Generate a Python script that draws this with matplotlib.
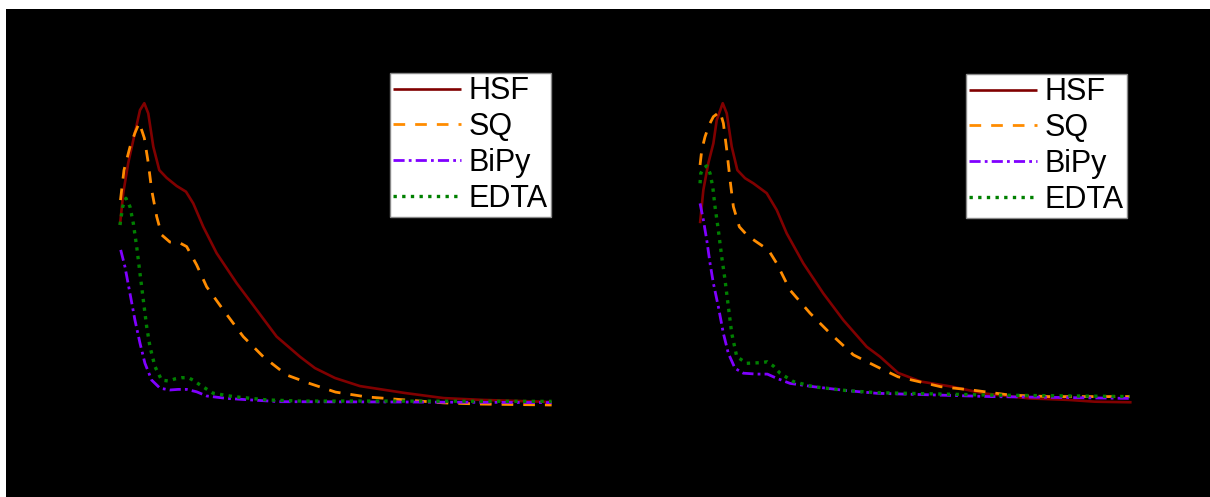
import matplotlib
matplotlib.use("Agg")
import matplotlib.pyplot as plt
from matplotlib.patches import Rectangle

plt.rcParams['font.family'] = ['Liberation Sans', 'DejaVu Sans']

series_names = ["HSF", "SQ", "BiPy", "EDTA"]

# ---- Left panel ----
left_hsf_x = [200, 204.6, 211.5, 218.5, 227.8, 233.8, 239.3, 246.3, 254.6, 264.9, 278.8, 291.7, 301.8,
              315.7, 334.3, 362.1, 389.9, 417.6, 450, 470.8, 498.6, 533.3, 595.8, 649.6, 702.8, 799.6]
left_hsf_y = [0.590, 0.697, 0.797, 0.873, 0.973, 0.996, 0.962, 0.851, 0.773, 0.747, 0.720, 0.701, 0.662,
              0.584, 0.496, 0.396, 0.307, 0.218, 0.151, 0.113, 0.080, 0.053, 0.030, 0.013, 0.007, 0.000]

left_sq_x = [200.7, 205.6, 213.9, 220.8, 226.8, 233.8, 239.3, 244, 251, 257.9, 269.4, 283.3, 292.6,
             306.5, 320.4, 343.5, 371.2, 399, 431.5, 461.9, 499.4, 542.4, 595.8, 649.6, 702.8, 799.6]
left_sq_y = [0.673, 0.773, 0.850, 0.897, 0.931, 0.880, 0.797, 0.707, 0.618, 0.557, 0.533, 0.530, 0.518,
             0.457, 0.384, 0.307, 0.218, 0.151, 0.090, 0.063, 0.033, 0.017, 0.007, -0.003, -0.007, -0.010]

left_bipy_x = [201, 206.9, 213.9, 220.8, 227.8, 234.7, 244, 255.6, 269.4, 280.6, 292.6, 306.5, 320.4,
               348.2, 380.6, 422.2, 588.9, 799.6]
left_bipy_y = [0.507, 0.451, 0.362, 0.273, 0.196, 0.129, 0.073, 0.046, 0.040, 0.042, 0.042, 0.034, 0.020,
               0.012, 0.007, 0.001, 0.000, -0.002]

left_edta_x = [200, 203.8, 208.3, 213.9, 218.5, 223.2, 227.8, 232.4, 237.1, 241.7, 248.6, 257.9, 267.1,
               276.4, 285.7, 294.9, 301.4, 311.1, 329.6, 357.4, 403.8, 450, 569.2, 799.6]
left_edta_y = [0.590, 0.651, 0.679, 0.651, 0.596, 0.518, 0.429, 0.340, 0.251, 0.184, 0.118, 0.073, 0.070,
               0.077, 0.081, 0.081, 0.073, 0.057, 0.029, 0.018, 0.007, 0.003, 0.003, 0.002]

# ---- Right panel ----
right_hsf_x = [200, 204.6, 211.5, 218.5, 223.2, 231.5, 237.1, 244, 251.8, 262.5, 274, 292.6, 306.5, 320.4,
               343.5, 371.2, 399, 431.5, 450, 475, 506.9, 550, 593.1, 656.9, 711.1, 748.6, 799.4]
right_hsf_y = [0.596, 0.707, 0.796, 0.862, 0.940, 0.996, 0.962, 0.851, 0.773, 0.746, 0.729, 0.696, 0.640,
               0.562, 0.462, 0.362, 0.273, 0.184, 0.151, 0.097, 0.068, 0.051, 0.029, 0.012, 0.007, 0.001, -0.001]

right_sq_x = [200, 202.4, 206.9, 212.5, 218.5, 227.8, 232.4, 237.1, 241.7, 246.3, 254.6, 264.9, 276.4, 288,
              294.9, 306.5, 325, 352.8, 380.6, 413, 445.4, 475, 534.2, 577.1, 630.6, 684.3, 737.5, 796.8]
right_sq_y = [0.790, 0.840, 0.884, 0.923, 0.951, 0.968, 0.929, 0.840, 0.740, 0.651, 0.584, 0.557, 0.537, 0.518,
              0.507, 0.462, 0.373, 0.296, 0.229, 0.157, 0.118, 0.084, 0.051, 0.040, 0.023, 0.018, 0.018, 0.018]

right_bipy_x = [200, 204.6, 209.3, 213.9, 218.5, 225.4, 232.4, 239.3, 248.6, 260.1, 278.8, 293.5, 306.5,
                325, 357.4, 403.8, 445.4, 603.9, 796.8]
right_bipy_y = [0.662, 0.607, 0.540, 0.462, 0.396, 0.318, 0.229, 0.162, 0.112, 0.096, 0.093, 0.093, 0.079,
                0.062, 0.051, 0.038, 0.029, 0.018, 0.012]

right_edta_x = [200, 201, 204.6, 209.3, 213.9, 217.6, 220.8, 225.4, 230.1, 234.7, 239.3, 244, 251, 264.9,
                283.3, 293.5, 301.8, 311.1, 329.6, 357.4, 403.8, 445.4, 603.9, 796.8]
right_edta_y = [0.729, 0.762, 0.779, 0.787, 0.762, 0.718, 0.651, 0.573, 0.484, 0.407, 0.318, 0.229, 0.151,
                0.129, 0.131, 0.134, 0.120, 0.096, 0.068, 0.051, 0.038, 0.031, 0.023, 0.018]

styles = {
    "HSF": dict(color="#800000", linestyle="-", linewidth=1.9),
    "SQ": dict(color="#FF8C00", linestyle=(0, (4.2, 3.6)), linewidth=2.0),
    "BiPy": dict(color="#8000FF", linestyle=(0, (4, 1.5, 1, 1.5)), linewidth=2.0),
    "EDTA": dict(color="#008000", linestyle=(0, (1, 1.6)), linewidth=2.4),
}

fig = plt.figure(figsize=(12.1, 4.97), dpi=100, facecolor="white")
bg = Rectangle((6 / 1210, 0), 1.0, 1 - 9 / 497, transform=fig.transFigure,
               facecolor="black", edgecolor="none", zorder=-10)
fig.patches.append(bg)

panels = [
    (0.0694, [(left_hsf_x, left_hsf_y), (left_sq_x, left_sq_y), (left_bipy_x, left_bipy_y), (left_edta_x, left_edta_y)],
     (551 / 1210, 1 - 73 / 497)),
    (0.5488, [(right_hsf_x, right_hsf_y), (right_sq_x, right_sq_y), (right_bipy_x, right_bipy_y), (right_edta_x, right_edta_y)],
     (1127 / 1210, 1 - 74 / 497)),
]

for left, data, anchor in panels:
    ax = fig.add_axes([left, 0.1308, 0.4165, 0.7847], zorder=1)
    ax.set_facecolor("black")
    for name, (xs, ys) in zip(series_names, data):
        ax.plot(xs, ys, label=name, solid_capstyle="butt", dash_capstyle="butt",
                solid_joinstyle="round", **styles[name])
    ax.set_xlim(150, 850)
    ax.set_ylim(-0.1, 1.2)
    for sp in ax.spines.values():
        sp.set_color("black")
    ax.set_xticks([])
    ax.set_yticks([])
    leg = ax.legend(loc="upper right", bbox_to_anchor=anchor, bbox_transform=fig.transFigure,
                    borderaxespad=0, fontsize=22, frameon=True, fancybox=False,
                    handlelength=2.2, handletextpad=0.26, labelspacing=0.19, borderpad=0.11)
    leg.get_frame().set_edgecolor("#888888")
    leg.get_frame().set_facecolor("white")
    leg.get_frame().set_alpha(1)
    leg.get_frame().set_linewidth(1.0)

fig.savefig("out.png", dpi=100, facecolor="white")
